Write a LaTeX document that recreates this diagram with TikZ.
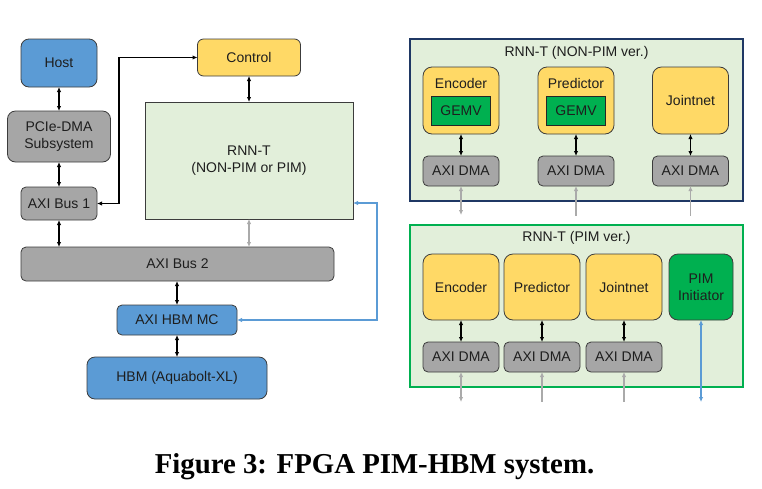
\documentclass[tikz,border=0pt]{standalone}
\usepackage{fontspec}
\setmainfont{Liberation Sans}
\newfontfamily\captionFont{Liberation Serif}
\usetikzlibrary{positioning}
\usetikzlibrary{arrows.meta}
\definecolor{hostBlue}{RGB}{91,155,213}
\definecolor{busGray}{RGB}{166,166,166}
\definecolor{moduleYellow}{RGB}{255,217,102}
\definecolor{panelGreen}{RGB}{226,239,218}
\definecolor{gemvGreen}{RGB}{0,176,80}
\definecolor{navyBorder}{RGB}{31,56,100}
\definecolor{boxBorder}{RGB}{60,60,60}
\definecolor{textColor}{RGB}{30,30,30}
\definecolor{linkGray}{RGB}{170,170,170}
\definecolor{linkBlue}{RGB}{91,155,213}
\tikzstyle{diagram} = [x = 1pt, y = -1pt, every node/.style={font=\fontsize{14}{17}\selectfont, text=textColor, inner sep=0pt, outer sep=0pt, align=center}]
\tikzstyle{hostBox} = [draw=boxBorder, line width=0.8pt, fill=hostBlue, rounded corners=8pt]
\tikzstyle{busBox} = [draw=boxBorder, line width=0.8pt, fill=busGray, rounded corners=5pt]
\tikzstyle{moduleBox} = [draw=boxBorder, line width=0.8pt, fill=moduleYellow, rounded corners=9pt]
\tikzstyle{gemvBox} = [draw=black!85, line width=1pt, fill=gemvGreen]
\tikzstyle{rnntBox} = [draw=boxBorder, line width=0.8pt, fill=panelGreen]
\tikzstyle{panelBox} = [line width=2.5pt, fill=panelGreen]
\tikzstyle{link} = [color=black, line width=1.1pt]
\tikzstyle{grayLink} = [color=linkGray, line width=1.6pt]
\tikzstyle{blueLink} = [color=linkBlue, line width=1.6pt]
\begin{document}
\begin{tikzpicture}[diagram, >={Latex[length=5pt, width=4.5pt]}]
          \useasboundingbox (0,0) rectangle (762,488);
          \node[hostBox, minimum width=76pt, minimum height=48pt] (host) at (59,63) {Host};
          \node[busBox, rounded corners=8pt, minimum width=103pt, minimum height=51pt] (pcie) at (59,136.5) {PCIe-DMA\\Subsystem};
          \node[busBox, minimum width=76pt, minimum height=33pt] (axiBusOne) at (59,203.5) {AXI Bus 1};
          \node[moduleBox, rounded corners=6pt, minimum width=103pt, minimum height=37pt] (control) at (249,57.5) {Control};
          \node[rnntBox, minimum width=208pt, minimum height=117pt] (rnnt) at (249,160.5) {RNN-T\\(NON-PIM or PIM)};
          \node[busBox, minimum width=313pt, minimum height=34pt] (axiBusTwo) at (177.5,264) {AXI Bus 2};
          \node[hostBox, rounded corners=5pt, minimum width=120pt, minimum height=30pt] (hbmMc) at (177,320) {AXI HBM MC};
          \node[hostBox, minimum width=180pt, minimum height=42pt] (hbm) at (177,378) {HBM (Aquabolt-XL)};

          \draw[link, <->] (host) -- (pcie);
          \draw[link, <->] (pcie) -- (axiBusOne);
          \draw[link, <->] (axiBusOne.south) -- (axiBusOne.south |- axiBusTwo.north);
          \draw[link, <->] (axiBusOne.east) -- ++(22,0) |- (control.west);
          \draw[link, <->] (control) -- (rnnt);
          \draw[grayLink, <->] (rnnt.south) -- (rnnt.south |- axiBusTwo.north);
          \draw[link, <->] (hbmMc.north |- axiBusTwo.south) -- (hbmMc.north);
          \draw[link, <->] (hbmMc) -- (hbm);
          \draw[blueLink, <->] ([yshift=16pt]rnnt.south east) -- ++(24,0) |- (hbmMc.east);

          \node[panelBox, draw=navyBorder, minimum width=333pt, minimum height=162pt] (nonPimPanel) at (576.5,120) {};
          \node (nonPimTitle) at ([yshift=-14pt]nonPimPanel.north) {RNN-T (NON-PIM ver.)};
          \foreach \name/\xpos/\title in {encA/461/Encoder, predA/576/Predictor} {
            \node[moduleBox, minimum width=76pt, minimum height=67pt] (\name) at (\xpos,100.5) {};
            \node (\name Label) at ([yshift=-16pt]\name.north) {\title};
            \node[gemvBox, minimum width=59pt, minimum height=29pt] (\name Gemv) at (\xpos,110.5) {GEMV};
          }
          \node[moduleBox, minimum width=76pt, minimum height=67pt] (jointA) at (690.5,100.5) {Jointnet};
          \foreach \name/\xpos in {encA/461, predA/576, jointA/690.5} {
            \node[busBox, minimum width=76pt, minimum height=30pt] (\name Dma) at (\xpos,171) {AXI DMA};
            \draw[link, <->] (\name) -- (\name Dma);
          }
          \draw[grayLink, <->] (encADma.south) -- ++(0,29);
          \draw[grayLink, <-] (predADma.south) -- ++(0,30);
          \draw[grayLink, <-] (jointADma.south) -- ++(0,30);

          \node[panelBox, draw=gemvGreen, minimum width=333pt, minimum height=162pt] (pimPanel) at (576.5,306) {};
          \node (pimTitle) at ([yshift=-13pt]pimPanel.north) {RNN-T (PIM ver.)};
          \foreach \name/\xpos/\title in {encB/461/Encoder, predB/542/Predictor, jointB/624/Jointnet} {
            \node[moduleBox, minimum width=76pt, minimum height=66pt] (\name) at (\xpos,287) {\title};
            \node[busBox, minimum width=76pt, minimum height=30pt] (\name Dma) at (\xpos,357) {AXI DMA};
            \draw[link, <->] (\name) -- (\name Dma);
          }
          \node[gemvBox, draw=boxBorder, line width=0.8pt, rounded corners=9pt, minimum width=64pt, minimum height=66pt] (pimInit) at (701,287) {PIM\\Initiator};
          \draw[grayLink, <->] (encBDma.south) -- ++(0,30);
          \draw[grayLink, <-] (predBDma.south) -- ++(0,30);
          \draw[grayLink, <-] (jointBDma.south) -- ++(0,30);
          \draw[blueLink, <->] (pimInit.south) -- ++(0,82);

          \node[anchor=base, font=\captionFont\bfseries\fontsize{28.8}{34}\selectfont, text=black] (caption) at (374.5,473) {Figure 3: FPGA PIM-HBM system.};
        \end{tikzpicture}
\end{document}
